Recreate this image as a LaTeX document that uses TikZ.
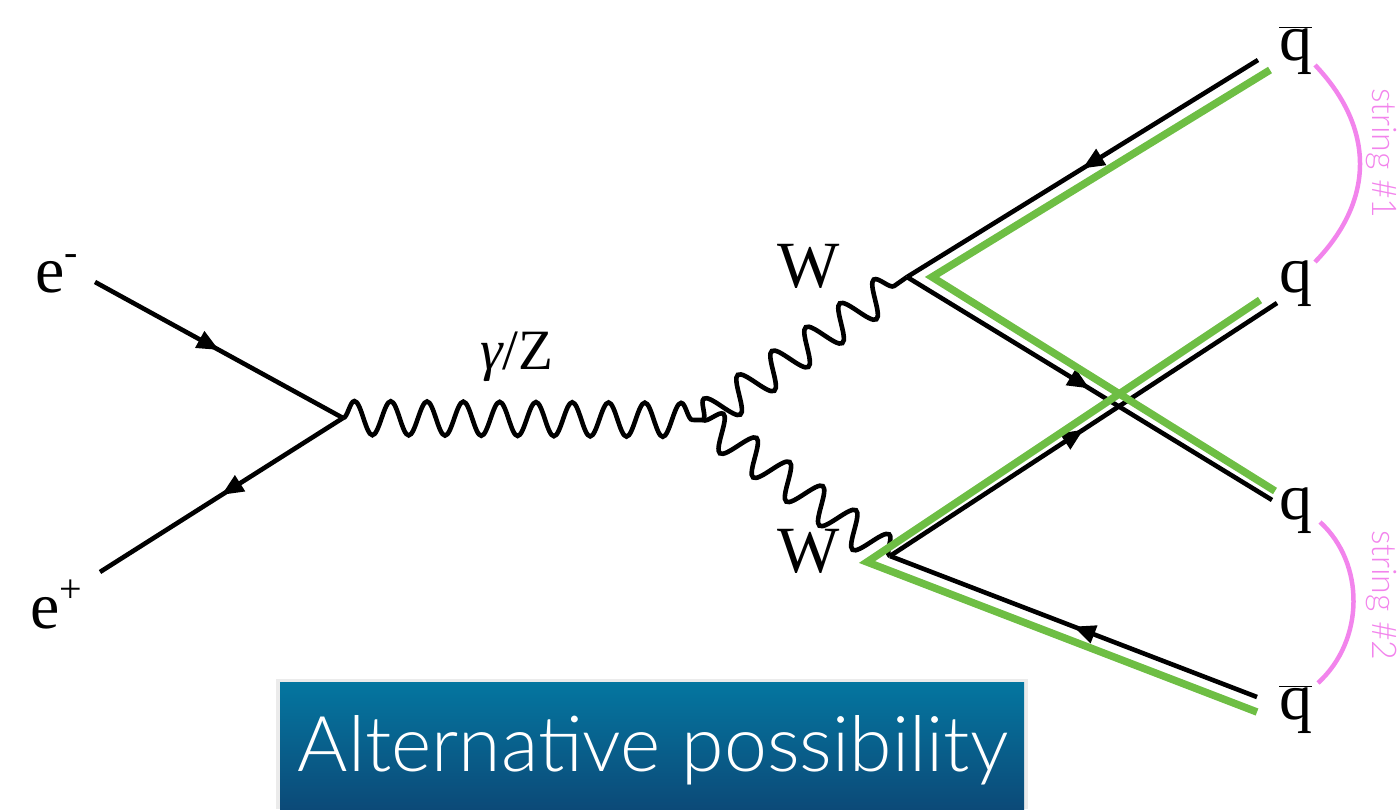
\documentclass[tikz,border=0pt]{standalone}
\usepackage{fontspec}
\setmainfont{Liberation Serif}
\newfontfamily\lightfont{Lato Light}
\usetikzlibrary{decorations.pathmorphing,decorations.markings,arrows.meta}
\definecolor{qgreen}{RGB}{110,190,68}
\definecolor{spink}{RGB}{242,132,236}
\definecolor{boxtop}{RGB}{4,118,160}
\definecolor{boxbot}{RGB}{12,74,120}
\begin{document}
\begin{tikzpicture}[x=1pt,y=-1pt,
  fermion/.style={line width=4.6pt, postaction={decorate},
    decoration={markings, mark=at position 0.5 with {\arrow{Triangle[length=22pt,width=18pt]}}}},
  boson/.style={line width=4.6pt, decorate,
    decoration={snake, segment length=#1, amplitude=17pt}},
  greenline/.style={line width=7.5pt, qgreen, line join=miter},
  stringarc/.style={line width=4.5pt, spink},
  lbl/.style={inner sep=0pt, anchor=base west, font=\fontsize{66}{70}\selectfont},
  smalllbl/.style={inner sep=0pt, anchor=base west, font=\fontsize{57}{60}\selectfont},
  stringlbl/.style={inner sep=0pt, anchor=base west, rotate=-90, text=spink,
    font=\lightfont\fontsize{34}{38}\selectfont},
  altbox/.style={draw=none, top color=boxtop, bottom color=boxbot,
    minimum width=744pt, minimum height=127pt, inner sep=0pt},
  alttext/.style={inner sep=0pt, anchor=base, text=white,
    font=\lightfont\fontsize{77}{82}\selectfont}
]
\useasboundingbox (0,0) rectangle (1397,809);

% vertices and end points
\coordinate (v1) at (343,418);
\coordinate (v2) at (703,420);
\coordinate (wa) at (907,277);
\coordinate (wb) at (890,556);
\coordinate (em) at (95,282);
\coordinate (ep) at (100,572);
\coordinate (qb1) at (1258,60);
\coordinate (q1) at (1272,500);
\coordinate (q2) at (1277,303);
\coordinate (qb2) at (1257,697);
% green string paths
\coordinate (g1a) at (1270,70);
\coordinate (g1v) at (932,277);
\coordinate (g1b) at (1275,491);
\coordinate (g2a) at (1260,300);
\coordinate (g2v) at (867,562);
\coordinate (g2b) at (1257,712);

% labels
\node[lbl] (eminus) at (35,292) {e\raisebox{27pt}{\fontsize{40}{40}\selectfont -}};
\node[lbl] (eplus) at (30,628) {e\raisebox{26pt}{\fontsize{40}{40}\selectfont +}};
\node[smalllbl] (gz) at (480,369) {{\itshape γ}/Z};
\node[lbl] (wup) at (777,287) {W};
\node[lbl] (wdn) at (777,572) {W};
\node[lbl] (lqb1) at (1279,60) {$\overline{\hbox{q}}$};
\node[lbl] (lq2) at (1279,292) {q};
\node[lbl] (lq1) at (1279,519) {q};
\node[lbl] (lqb2) at (1279,719) {$\overline{\hbox{q}}$};

% fermions
\draw[fermion] (em) -- (v1);
\draw[fermion] (v1) -- (ep);
\draw[fermion] (qb1) -- (wa);
\draw[fermion] (wa) -- (q1);
\draw[fermion] (wb) -- (q2);
\draw[fermion] (qb2) -- (wb);

% bosons
\draw[boson=36.3pt] (v1) -- (v2);
\draw[boson=41.5pt] (v2) -- (wa);
\draw[boson=41pt] (v2) -- (wb);

% green strings
\draw[greenline] (g1a) -- (g1v) -- (g1b);
\draw[greenline] (g2a) -- (g2v) -- (g2b);

% pink string arcs
\coordinate (p1a) at (1315,65);
\coordinate (p1b) at (1315,262);
\coordinate (p2a) at (1320,522);
\coordinate (p2b) at (1318,683);
\draw[stringarc] (p1a) .. controls (1375,128) and (1375,200) .. (p1b);
\draw[stringarc] (p2a) .. controls (1365,563) and (1365,640) .. (p2b);
\node[stringlbl] (s1) at (1372,88) {string \#1};
\node[stringlbl] (s2) at (1372,530) {string \#2};

% box
\fill[black, opacity=0.08] (276,679) rectangle (1028,809);
\node[altbox] (alt) at (652,745.5) {};
\node[alttext] (alttxt) at (653,771) {Alternative possibility};
\end{tikzpicture}
\end{document}
